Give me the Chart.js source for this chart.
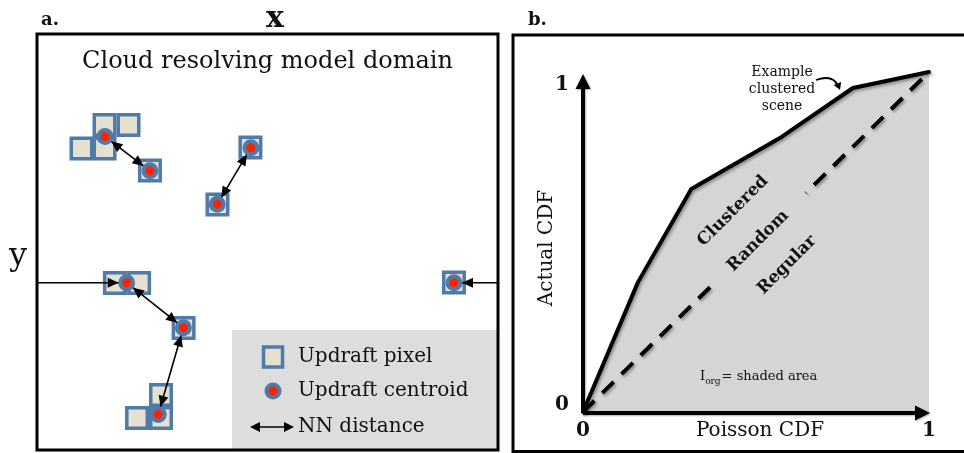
<!DOCTYPE html>
<html><head><meta charset="utf-8">
<script src="https://cdn.jsdelivr.net/npm/chart.js@4.4.1/dist/chart.umd.min.js"></script>
<style>
html,body{margin:0;padding:0;background:#fff;width:964px;height:453px;overflow:hidden}
#ca{position:absolute;left:0;top:0}
#cb{position:absolute;left:500px;top:0}
</style></head><body>
<canvas id="ca" width="500" height="453"></canvas>
<canvas id="cb" width="464" height="453"></canvas>
<script>
// ---------- panel a data (domain grid units, y grows downward) ----------
const cellX = [2.93, 3.97, 1.93, 2.93, 4.90, 9.26, 7.83, 3.38, 4.43, 6.36, 5.38, 4.34, 5.38, 18.09];
const cellY = [3.94, 3.94, 4.95, 4.95, 5.91, 4.91, 7.38, 10.77, 10.77, 12.72, 15.62, 16.62, 16.62, 10.75];
const centroidX = [2.95, 4.90, 9.28, 7.82, 3.89, 6.35, 5.26, 18.09];
const centroidY = [4.44, 5.92, 4.92, 7.37, 10.76, 12.71, 16.46, 10.76];
const nnFrom = [0, 2, 4, 5];
const nnTo = [1, 3, 5, 6];
const edgeFromX = [0, 20];
const edgeTo = [4, 7];
const legendLabels = ['Updraft pixel', 'Updraft centroid', 'NN distance'];

// ---------- panel b data ----------
const poissonCdf = [0, 0.159, 0.313, 0.574, 0.780, 1.0];
const actualCdf = [0, 0.382, 0.656, 0.809, 0.953, 1.0];
const randomX = [0, 1];
const randomY = [0, 1];
const cdfTicks = [0, 1];
const cdfTickLabels = ['0', '1'];

const FONT = "'DejaVu Serif', serif";
const CELL_FILL = '#e4e1d0', CELL_EDGE = '#4f7bab', RED = '#ff2200', SHADE = '#d5d5d5';

function head(ctx, fx, fy, tx, ty, back, len, half) {
  const a = Math.atan2(ty - fy, tx - fx);
  const c = Math.cos(a), s = Math.sin(a);
  const px = tx - c * back, py = ty - s * back;
  ctx.beginPath();
  ctx.moveTo(px, py);
  ctx.lineTo(px - len * c + half * s, py - len * s - half * c);
  ctx.lineTo(px - len * c - half * s, py - len * s + half * c);
  ctx.closePath();
  ctx.fill();
}

// ---------- panel a ----------
const arrowSets = [];
nnFrom.forEach((a, i) => arrowSets.push({
  data: [{x: centroidX[a], y: centroidY[a]}, {x: centroidX[nnTo[i]], y: centroidY[nnTo[i]]}], heads: 'both'}));
edgeTo.forEach((t, i) => arrowSets.push({
  data: [{x: edgeFromX[i], y: centroidY[t]}, {x: centroidX[t], y: centroidY[t]}], heads: 'end'}));

const panelA = {
  id: 'panelA',
  beforeDatasetsDraw(chart) {
    const {ctx, chartArea: ca} = chart;
    ctx.save();
    ctx.fillStyle = '#dddddd';
    ctx.fillRect(ca.right - 266, ca.bottom - 120, 266, 120);
    ctx.restore();
  },
  afterDatasetsDraw(chart) {
    const ctx = chart.ctx;
    ctx.save();
    ctx.fillStyle = '#000';
    chart.data.datasets.forEach((ds, i) => {
      if (!ds.heads) return;
      const p = chart.getDatasetMeta(i).data;
      head(ctx, p[0].x, p[0].y, p[1].x, p[1].y, 8, 11, 5);
      if (ds.heads === 'both') head(ctx, p[1].x, p[1].y, p[0].x, p[0].y, 8, 11, 5);
    });
    ctx.restore();
  },
  afterDraw(chart) {
    const {ctx, chartArea: ca} = chart;
    ctx.save();
    ctx.strokeStyle = '#000';
    ctx.lineWidth = 3;
    ctx.strokeRect(ca.left, ca.top, ca.right - ca.left, ca.bottom - ca.top);
    ctx.fillStyle = '#111';
    ctx.textBaseline = 'alphabetic';
    ctx.font = 'bold 18px ' + FONT;
    ctx.textAlign = 'left';
    ctx.fillText('a.', 41, 25);
    ctx.font = 'bold 30px ' + FONT;
    ctx.textAlign = 'center';
    ctx.fillText('x', 275, 27);
    ctx.font = '32px ' + FONT;
    ctx.fillText('y', 18, 265);
    ctx.font = '24px ' + FONT;
    ctx.fillText('Cloud resolving model domain', (ca.left + ca.right) / 2, 68);
    // legend
    const L = ca.right - 266;
    const rows = [ca.bottom - 93, ca.bottom - 59, ca.bottom - 23];
    const ix = L + 41;
    ctx.fillStyle = CELL_FILL; ctx.strokeStyle = CELL_EDGE; ctx.lineWidth = 3.5;
    ctx.beginPath(); ctx.rect(ix - 9.5, rows[0] - 10, 19, 20); ctx.fill(); ctx.stroke();
    ctx.beginPath(); ctx.arc(ix, rows[1], 6.5, 0, Math.PI * 2);
    ctx.fillStyle = RED; ctx.fill(); ctx.lineWidth = 4; ctx.stroke();
    ctx.fillStyle = '#000'; ctx.strokeStyle = '#000'; ctx.lineWidth = 1.5;
    ctx.beginPath(); ctx.moveTo(L + 22, rows[2]); ctx.lineTo(L + 58, rows[2]); ctx.stroke();
    head(ctx, L + 40, rows[2], L + 18, rows[2], 0, 10, 5);
    head(ctx, L + 40, rows[2], L + 62, rows[2], 0, 10, 5);
    ctx.fillStyle = '#111';
    ctx.font = '20px ' + FONT;
    ctx.textAlign = 'left';
    ctx.textBaseline = 'middle';
    legendLabels.forEach((t, i) => ctx.fillText(t, L + 66, rows[i]));
    ctx.restore();
  }
};

new Chart(document.getElementById('ca'), {
  type: 'scatter',
  data: {
    datasets: [
      {label: 'Updraft pixel', data: cellX.map((x, i) => ({x, y: cellY[i]})), pointStyle: 'rect',
       pointRadius: 14.5, pointHoverRadius: 14.5, backgroundColor: CELL_FILL, borderColor: CELL_EDGE,
       borderWidth: 3.5, order: 3, clip: false},
      ...arrowSets.map(a => ({label: 'NN distance', data: a.data, showLine: true, borderColor: '#000',
       borderWidth: 1.6, pointRadius: 0, pointHoverRadius: 0, order: 2, clip: false, heads: a.heads})),
      {label: 'Updraft centroid', data: centroidX.map((x, i) => ({x, y: centroidY[i]})), pointStyle: 'circle',
       pointRadius: 6.5, pointHoverRadius: 6.5, backgroundColor: RED, borderColor: CELL_EDGE, borderWidth: 4,
       order: 1, clip: false}
    ]
  },
  options: {
    responsive: false, animation: false, events: [],
    layout: {autoPadding: false, padding: {left: 37, right: 2, top: 34, bottom: 3}},
    plugins: {legend: {display: false}, tooltip: {enabled: false}},
    scales: {
      x: {type: 'linear', min: 0, max: 20, display: false},
      y: {type: 'linear', min: 0, max: 18, reverse: true, display: false}
    }
  },
  plugins: [panelA]
});

// ---------- panel b ----------
const panelB = {
  id: 'panelB',
  beforeDatasetDraw(chart, args) {
    const ctx = chart.ctx;
    ctx.save();
    ctx.shadowColor = 'rgba(0,0,0,0.35)';
    ctx.shadowBlur = 3;
    ctx.shadowOffsetX = 1.5;
    ctx.shadowOffsetY = 2;
  },
  afterDatasetDraw(chart) { chart.ctx.restore(); },
  afterDatasetsDraw(chart) {
    const ctx = chart.ctx;
    const xs = chart.scales.x, ys = chart.scales.y;
    const x0 = xs.getPixelForValue(0), y0 = ys.getPixelForValue(0);
    const x1 = xs.getPixelForValue(1), y1 = ys.getPixelForValue(1);
    ctx.save();
    // mask behind the "Random" label (sits on the 1:1 line)
    const rx = xs.getPixelForValue(0.508), ry = ys.getPixelForValue(0.508);
    ctx.translate(rx, ry); ctx.rotate(-Math.atan2(y0 - y1, x1 - x0));
    ctx.fillStyle = SHADE;
    ctx.fillRect(-66, -11, 132, 22);
    ctx.setTransform(1, 0, 0, 1, 0, 0);
    ctx.shadowColor = 'rgba(0,0,0,0.3)'; ctx.shadowBlur = 2; ctx.shadowOffsetX = 1; ctx.shadowOffsetY = 1;
    ctx.strokeStyle = '#000'; ctx.fillStyle = '#000'; ctx.lineWidth = 4;
    ctx.beginPath(); ctx.moveTo(x0, y0 + 1); ctx.lineTo(x1 - 10, y0 + 1); ctx.stroke();
    head(ctx, x0, y0 + 1, x1 + 1, y0 + 1, 0, 15, 7.5);
    ctx.beginPath(); ctx.moveTo(x0, y0 + 1); ctx.lineTo(x0, y1 + 12); ctx.stroke();
    head(ctx, x0, y0, x0, y1 + 2, 0, 15, 7.5);
    ctx.restore();
  },
  afterDraw(chart) {
    const ctx = chart.ctx;
    const xs = chart.scales.x, ys = chart.scales.y;
    ctx.save();
    ctx.strokeStyle = '#000'; ctx.lineWidth = 3;
    ctx.strokeRect(13, 35, 470, 416.5);
    ctx.fillStyle = '#111';
    ctx.textAlign = 'left'; ctx.textBaseline = 'alphabetic';
    ctx.font = 'bold 18px ' + FONT;
    ctx.fillText('b.', 28, 25);
    // ticks
    ctx.font = 'bold 20px ' + FONT;
    ctx.textAlign = 'center'; ctx.textBaseline = 'middle';
    cdfTicks.forEach((v, i) => {
      ctx.fillText(cdfTickLabels[i], xs.getPixelForValue(0) - 21, ys.getPixelForValue(v) + (v === 1 ? 13 : -7));
      ctx.fillText(cdfTickLabels[i], xs.getPixelForValue(v), 431);
    });
    ctx.font = '20px ' + FONT;
    ctx.fillText('Poisson CDF', xs.getPixelForValue(0.5) + 4, 431);
    ctx.save();
    ctx.translate(47, 248); ctx.rotate(-Math.PI / 2);
    ctx.fillText('Actual CDF', 0, 0);
    ctx.restore();
    // annotation
    ctx.font = '14px ' + FONT;
    ctx.fillText('Example', 282, 72);
    ctx.fillText('clustered', 282, 89);
    ctx.fillText('scene', 282, 106);
    ctx.lineWidth = 1.8; ctx.strokeStyle = '#000'; ctx.fillStyle = '#000';
    ctx.beginPath(); ctx.moveTo(316, 80); ctx.quadraticCurveTo(333, 74, 338, 86); ctx.stroke();
    head(ctx, 336, 80, 340, 90, 0, 7, 4);
    // region labels
    ctx.fillStyle = '#111';
    ctx.font = 'bold 17px ' + FONT;
    [['Clustered', 233, 211], ['Random', 258, 241], ['Regular', 287, 265]].forEach(([t, x, y]) => {
      ctx.save(); ctx.translate(x, y); ctx.rotate(-Math.PI / 4); ctx.fillText(t, 0, 0); ctx.restore();
    });
    // I_org
    ctx.textAlign = 'left'; ctx.textBaseline = 'alphabetic';
    ctx.font = '13px ' + FONT;
    let tx = 200;
    ctx.fillText('I', tx, 380); tx += ctx.measureText('I').width;
    ctx.font = '9px ' + FONT;
    ctx.fillText('org', tx, 384); tx += ctx.measureText('org').width + 1;
    ctx.font = '13px ' + FONT;
    ctx.fillText('= shaded area', tx, 380);
    ctx.restore();
  }
};

new Chart(document.getElementById('cb'), {
  type: 'line',
  data: {
    datasets: [
      {label: 'Example clustered scene', data: poissonCdf.map((x, i) => ({x, y: actualCdf[i]})),
       borderColor: '#000', borderWidth: 4, backgroundColor: SHADE, fill: 'origin', pointRadius: 0,
       tension: 0, order: 2, clip: false, borderJoinStyle: 'round', borderCapStyle: 'round'},
      {label: 'Random', data: randomX.map((x, i) => ({x, y: randomY[i]})), borderColor: '#000', borderWidth: 4,
       borderDash: [16, 11], pointRadius: 0, fill: false, order: 1, clip: false}
    ]
  },
  options: {
    responsive: false, animation: false, events: [],
    layout: {autoPadding: false, padding: {left: 83, right: 35, top: 72, bottom: 41}},
    plugins: {legend: {display: false}, tooltip: {enabled: false}},
    scales: {
      x: {type: 'linear', min: 0, max: 1, display: false},
      y: {type: 'linear', min: 0, max: 1, display: false}
    }
  },
  plugins: [panelB]
});
</script>
</body></html>
